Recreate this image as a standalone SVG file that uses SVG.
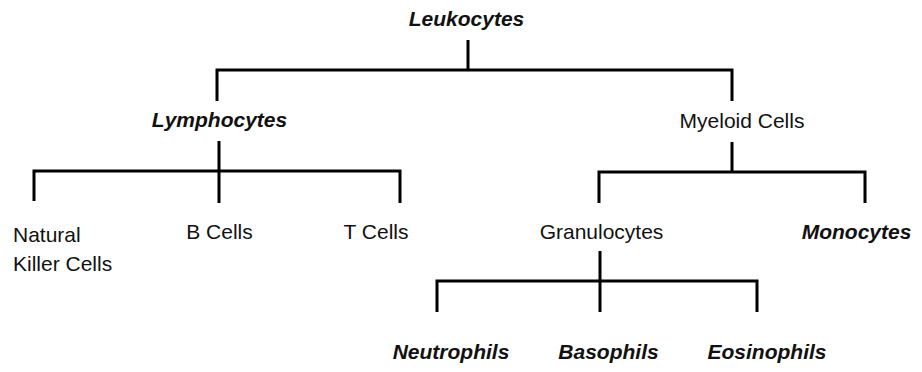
<svg xmlns="http://www.w3.org/2000/svg" width="922" height="372" viewBox="0 0 922 372">
<style>
text{font-family:"Liberation Sans",Arial,sans-serif;font-size:21px;fill:#111}
.bi{font-weight:bold;font-style:italic}
.c{text-anchor:middle}
.ln{fill:none;stroke:#000;stroke-width:3;stroke-linejoin:miter;stroke-linecap:butt}
</style>
<rect width="922" height="372" fill="#fff"/>
<g id="connectors">
<path class="ln" d="M468,40V70M217,101V70H732V101"/>
<path class="ln" d="M219,141V203M34,201V171H400V203"/>
<path class="ln" d="M732,142V172M599,203V172H865V203"/>
<path class="ln" d="M600,251V312M437,312V281H757V312"/>
</g>
<g id="leukocytes"><text class="bi c" x="466.5" y="26">Leukocytes</text></g>
<g id="lymphocytes"><text class="bi c" x="219.5" y="127">Lymphocytes</text></g>
<g id="myeloid"><text class="c" x="742" y="128">Myeloid Cells</text></g>
<g id="nk"><text x="13" y="242">Natural</text><text x="13" y="271">Killer Cells</text></g>
<g id="bcells"><text class="c" x="219.5" y="239">B Cells</text></g>
<g id="tcells"><text class="c" x="376" y="239">T Cells</text></g>
<g id="granulocytes"><text class="c" x="601.5" y="239">Granulocytes</text></g>
<g id="monocytes"><text class="bi c" x="856.5" y="239">Monocytes</text></g>
<g id="neutrophils"><text class="bi c" x="451" y="359">Neutrophils</text></g>
<g id="basophils"><text class="bi c" x="608.5" y="359">Basophils</text></g>
<g id="eosinophils"><text class="bi c" x="767" y="359">Eosinophils</text></g>
</svg>
